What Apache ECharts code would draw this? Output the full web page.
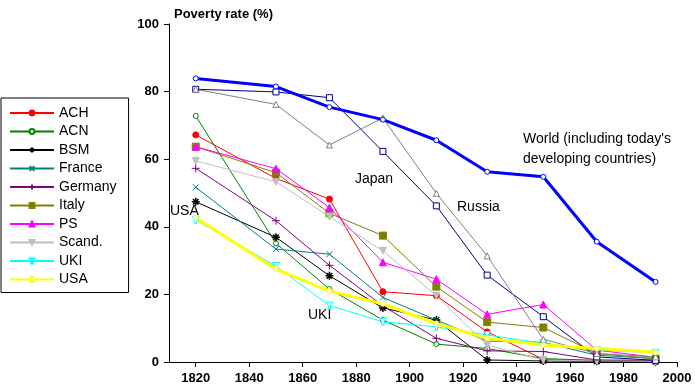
<!DOCTYPE html>
<html><head><meta charset="utf-8">
<script src="https://cdn.jsdelivr.net/npm/echarts@6/dist/echarts.min.js"></script>
<style>html,body{margin:0;padding:0;background:#fff}#c{width:695px;height:390px}</style>
</head><body><div id="c"></div>
<script>
const years = [1820,1850,1870,1890,1910,1929,1950,1970,1992];
const xTicks = [1820,1840,1860,1880,1900,1920,1940,1960,1980,2000];
const world  = [83.9,81.5,75.4,71.7,65.6,56.3,54.8,35.6,23.7];
const japan  = [80.7,79.9,78.2,62.3,46.2,25.7,13.4,1.5,0.5];
const russia = [80.7,76.2,64.2,72.2,49.9,31.4,6.7,2.5,1.5];
const ach    = [67.2,54.3,48.2,20.8,19.6,8.9,0.8,0.3,0.2];
const acn    = [72.8,35.1,21.6,12.4,5.3,4.0,1.0,0.5,0.3];
const bsm    = [47.4,36.9,25.5,16.0,12.4,0.6,0.3,0.2,0.1];
const france = [51.7,33.4,31.9,19.1,12.4,6.2,5.8,2.0,1.0];
const germany= [57.3,41.8,28.6,16.6,7.0,3.3,3.1,0.6,0.5];
const italy  = [63.7,56.0,44.0,37.4,22.3,11.8,10.2,2.5,1.0];
const ps     = [63.7,57.2,45.7,29.5,24.5,14.1,17.0,3.5,1.4];
const scand  = [59.5,53.3,43.0,32.9,19.6,5.0,0.6,0.3,0.2];
const uki    = [42.0,28.4,16.7,11.9,10.4,8.0,5.5,3.5,2.7];
const usa    = [42.7,27.5,21.0,17.2,11.4,7.0,5.0,4.0,2.9];

const pair = arr => years.map((y,i)=>[y,arr[i]]);
const FONT = 'Liberation Sans, Arial, sans-serif';
const STAR = 'path://M5,0 L5,10 M0,5 L10,5 M1.5,1.5 L8.5,8.5 M8.5,1.5 L1.5,8.5';
const XS = 'path://M0,0 L10,10 M10,0 L0,10';
const PLUS = 'path://M5,0 L5,10 M0,5 L10,5';

function mk(name, data, color, symbol, size, opts) {
  opts = opts || {};
  return {
    name, type:'line', data: pair(data), symbol, symbolSize: size,
    lineStyle:{color, width: opts.width || 1},
    itemStyle:{color: opts.hollow ? '#fff' : (opts.stroke ? 'none' : color), borderColor: color, borderWidth: opts.bw || 1},
    emphasis:{disabled:true}, animation:false, z: opts.z || 2
  };
}

const series = [
  mk('ACH', ach, '#ff0000', 'circle', 6),
  mk('ACN', acn, '#008000', 'circle', 5, {hollow:true}),
  mk('BSM', bsm, '#000000', STAR, 8, {stroke:true, bw:1.5}),
  mk('France', france, '#008080', XS, 6, {stroke:true}),
  mk('Germany', germany, '#800080', PLUS, 8, {stroke:true}),
  mk('Italy', italy, '#808000', 'rect', 7),
  mk('PS', ps, '#ff00ff', 'triangle', 7),
  mk('Scand.', scand, '#c0c0c0', 'path://M0,0 L10,0 L5,9 Z', 7),
  mk('UKI', uki, '#00ffff', 'path://M0,0 L10,0 L6.5,5 L6.5,10 L3.5,10 L3.5,5 Z', 7, {hollow:true}),
  mk('USA', usa, '#ffff00', 'circle', 5, {hollow:true, width:3, z:3}),
  mk('Japan', japan, '#000080', 'rect', 6, {hollow:true}),
  mk('Russia', russia, '#808080', 'triangle', 6, {hollow:true}),
  mk('World', world, '#0000ff', 'circle', 5, {hollow:true, width:3, z:4})
];

const chart = echarts.init(document.getElementById('c'), null, {renderer:'canvas'});
chart.setOption({
  backgroundColor:'#fff',
  animation:false,
  textStyle:{fontFamily:FONT},
  title:{text:'Poverty rate (%)', left:169, top:3,
    textStyle:{fontFamily:FONT, fontSize:13, fontWeight:'bold', color:'#000'}},
  grid:{left:169, right:18, top:24, bottom:28},
  legend:{
    data:['ACH','ACN','BSM','France','Germany','Italy','PS','Scand.','UKI','USA'],
    orient:'vertical', left:1, top:98, itemWidth:44, itemHeight:6, itemGap:4.5,
    padding:[8,12,6,8], borderColor:'#000', borderWidth:1,
    textStyle:{fontFamily:FONT, fontSize:14, color:'#000', lineHeight:14},
    selectedMode:false
  },
  xAxis:{type:'value', min:1810, max:2000,
    axisLine:{lineStyle:{color:'#000'}},
    axisTick:{customValues:xTicks, length:5, lineStyle:{color:'#000'}},
    axisLabel:{customValues:xTicks, margin:10, formatter: v => String(v), fontFamily:FONT, fontSize:13, fontWeight:'bold', color:'#000'},
    splitLine:{show:false}},
  yAxis:{type:'value', min:0, max:100, interval:20,
    axisLine:{show:true, lineStyle:{color:'#000'}},
    axisTick:{show:true, length:5, lineStyle:{color:'#000'}},
    axisLabel:{margin:10, fontFamily:FONT, fontSize:13, fontWeight:'bold', color:'#000'},
    splitLine:{show:false}},
  graphic:[
    {type:'text', left:355, top:172, style:{text:'Japan', font:'14px '+FONT, fill:'#000'}},
    {type:'text', left:457, top:200, style:{text:'Russia', font:'14px '+FONT, fill:'#000'}},
    {type:'text', left:523, top:129, style:{text:"World (including today's\ndeveloping countries)", font:'14px '+FONT, fill:'#000', lineHeight:20}},
    {type:'text', left:170, top:204, style:{text:'USA', font:'14px '+FONT, fill:'#000'}},
    {type:'text', left:308, top:308, style:{text:'UKI', font:'14px '+FONT, fill:'#000'}}
  ],
  series
});
</script></body></html>
